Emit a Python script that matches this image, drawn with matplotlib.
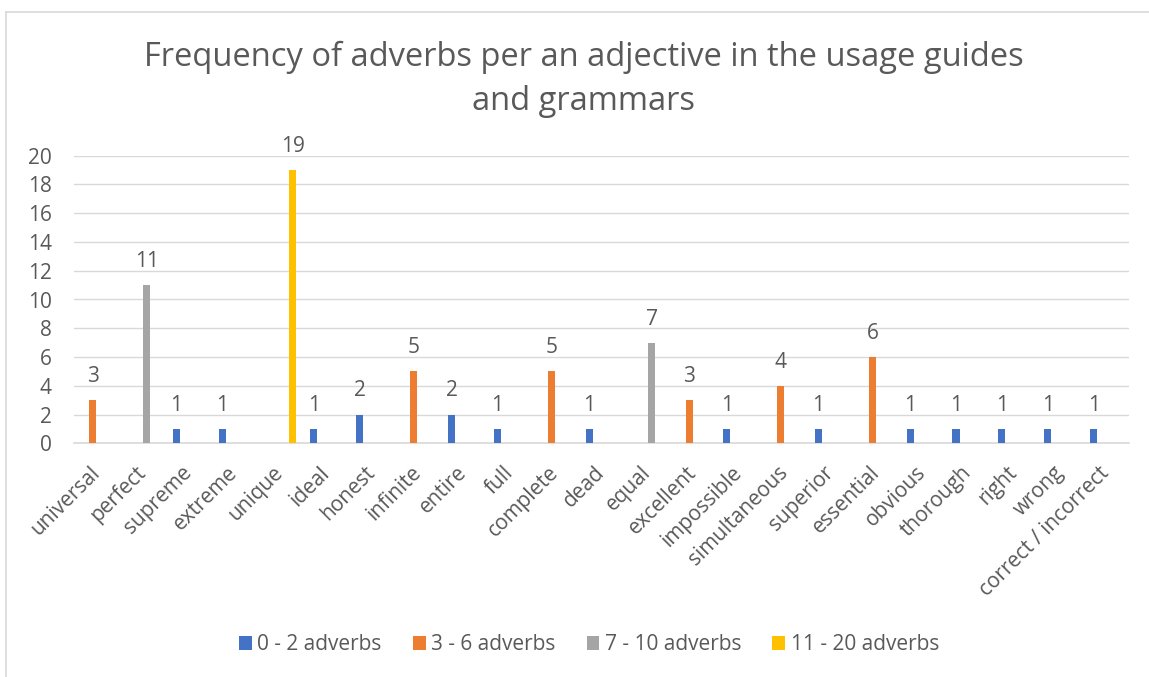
import matplotlib.pyplot as plt
from matplotlib.lines import Line2D
from matplotlib.patches import Patch

plt.rcParams['font.family'] = ['Open Sans', 'DejaVu Sans']

adjectives = ["universal", "perfect", "supreme", "extreme", "unique", "ideal",
              "honest", "infinite", "entire", "full", "complete", "dead",
              "equal", "excellent", "impossible", "simultaneous", "superior",
              "essential", "obvious", "thorough", "right", "wrong",
              "correct / incorrect"]

# one value per adjective, placed in the band it belongs to (None = empty cell)
adv_0_2 = [None, None, 1, 1, None, 1, 2, None, 2, 1, None, 1, None, None, 1,
           None, 1, None, 1, 1, 1, 1, 1]
adv_3_6 = [3, None, None, None, None, None, None, 5, None, None, 5, None,
           None, 3, None, 4, None, 6, None, None, None, None, None]
adv_7_10 = [None, 11, None, None, None, None, None, None, None, None, None,
            None, 7, None, None, None, None, None, None, None, None, None, None]
adv_11_20 = [None, None, None, None, 19, None, None, None, None, None, None,
             None, None, None, None, None, None, None, None, None, None, None,
             None]

series = [adv_0_2, adv_3_6, adv_7_10, adv_11_20]
series_names = ["0 - 2 adverbs", "3 - 6 adverbs", "7 - 10 adverbs", "11 - 20 adverbs"]
colors = ["#4472C4", "#ED7D31", "#A5A5A5", "#FFC000"]
text_col = "#595959"
fs = 15

W, H = 1149, 677
fig = plt.figure(figsize=(W / 100, H / 100), dpi=100)
ax = fig.add_axes([74 / W, 1 - 443.3 / H, (1129 - 74) / W, (443.3 - 155.7) / H])

step = 0.181
bar_w = 0.153
for k, (vals, col) in enumerate(zip(series, colors)):
    off = (k - 1.5) * step
    for i, v in enumerate(vals):
        if v is None:
            continue
        ax.bar(i + off, v, width=bar_w, color=col, zorder=3)
        ax.annotate(str(v), (i + off, v), xytext=(0, 13), textcoords="offset points",
                    ha="center", va="baseline", fontsize=fs, color=text_col)

ax.set_xlim(-0.5, len(adjectives) - 0.5)
ax.set_ylim(0, 20)
ax.set_yticks(range(0, 21, 2))
ax.set_xticks(range(len(adjectives)))
ax.set_xticklabels(adjectives, rotation=45, ha="right", va="center",
                   rotation_mode="anchor", fontsize=fs, color=text_col)
ax.tick_params(axis="x", length=0, pad=19)
ax.tick_params(axis="y", length=0, pad=16, labelsize=fs, labelcolor=text_col)
ax.grid(axis="y", color="#D9D9D9", linewidth=1.0, zorder=0)
for s in ["top", "right", "left"]:
    ax.spines[s].set_visible(False)
ax.spines["bottom"].set_color("#D9D9D9")
ax.spines["bottom"].set_linewidth(1.2)

fig.text(584 / W, 1 - 57 / H, "Frequency of adverbs per an adjective in the usage guides",
         ha="center", va="center", fontsize=23.5, color=text_col)
fig.text(584 / W, 1 - 102 / H, "and grammars",
         ha="center", va="center", fontsize=23.5, color=text_col)

handles = [Patch(facecolor=c, edgecolor="none") for c in colors]
fig.legend(handles, series_names, loc="center", bbox_to_anchor=(589 / W, 1 - 645 / H),
           ncol=4, frameon=False, fontsize=fs, labelcolor=text_col,
           handlelength=0.62, handleheight=0.62, handletextpad=0.25, columnspacing=1.5)

# chart area border
fig.add_artist(Line2D([6 / W, 6 / W], [0, 1 - 12 / H], color="#D9D9D9", linewidth=1.2))
fig.add_artist(Line2D([6 / W, 1], [1 - 12 / H, 1 - 12 / H], color="#D9D9D9", linewidth=1.2))

fig.savefig("out.png", dpi=100, facecolor="white")
